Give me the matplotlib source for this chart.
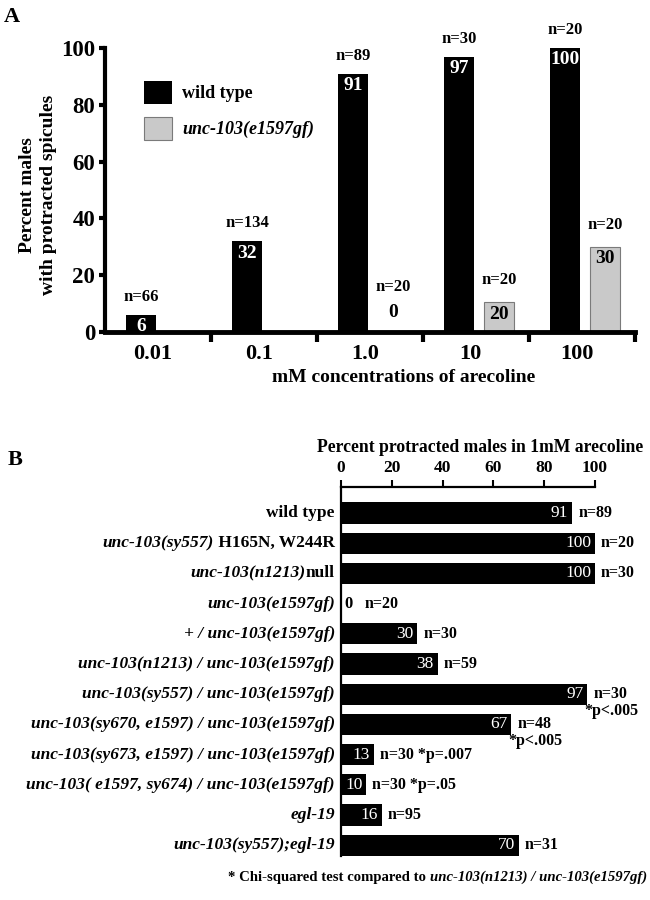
import matplotlib
matplotlib.use('Agg')
import matplotlib.pyplot as plt
from matplotlib.offsetbox import TextArea, HPacker, AnnotationBbox
import numpy as np

plt.rcParams['font.family'] = ['Liberation Serif', 'DejaVu Serif']
plt.rcParams['font.weight'] = 'bold'

# ---------------- Panel A data ----------------
concentrations = ['0.01', '0.1', '1.0', '10', '100']
wt_pct = [6, 32, 91, 97, 100]
wt_n = ['n=66', 'n=134', 'n=89', 'n=30', 'n=20']
gf_pct = [np.nan, np.nan, 0, 10.5, 30]          # bar heights as drawn
gf_label = ['', '', '0', '20', '30']
gf_n = ['', '', 'n=20', 'n=20', 'n=20']
series_names = ['wild type', 'unc-103(e1597gf)']

# ---------------- Panel B data ----------------
genotypes = [
    [('wild type', False)],
    [('unc-103(sy557)', True), (' H165N, W244R', False)],
    [('unc-103(n1213)', True), ('null', False)],
    [('unc-103(e1597gf)', True)],
    [('+ / unc-103(e1597gf)', True)],
    [('unc-103(n1213) / unc-103(e1597gf)', True)],
    [('unc-103(sy557) / unc-103(e1597gf)', True)],
    [('unc-103(sy670, e1597) / unc-103(e1597gf)', True)],
    [('unc-103(sy673, e1597) / unc-103(e1597gf)', True)],
    [('unc-103( e1597, sy674) / unc-103(e1597gf)', True)],
    [('egl-19', True)],
    [('unc-103(sy557);egl-19', True)],
]
pct_1mM = [91, 100, 100, 0, 30, 38, 97, 67, 13, 10, 16, 70]
n_1mM = ['n=89', 'n=20', 'n=30', 'n=20', 'n=30', 'n=59', 'n=30', 'n=48',
         'n=30', 'n=30', 'n=95', 'n=31']
pvals = ['', '', '', '', '', '', '*p<.005', '*p<.005', '*p=.007', '*p=.05', '', '']
titleB = 'Percent protracted males in 1mM arecoline'
footnote = [('* Chi-squared test compared to ', False),
            ('unc-103(n1213) / unc-103(e1597gf)', True)]

W, H = 650, 900
fig = plt.figure(figsize=(6.5, 9), dpi=100)

# ================= Panel A =================
axA = fig.add_axes([105 / W, 1 - 332 / H, (635 - 105) / W, (332 - 48) / H])
idx = np.arange(len(concentrations))
bw = 0.28
wt_x = idx + 0.34
gf_x = idx + 0.72
axA.bar(wt_x, wt_pct, width=bw, color='black', label=series_names[0], zorder=2)
axA.bar(gf_x, gf_pct, width=bw, color='#c9c9c9', edgecolor='#7a7a7a',
        linewidth=0.8, label=series_names[1], zorder=2)
axA.set_xlim(0, len(concentrations))
axA.set_ylim(0, 100)
axA.set_xticks(idx + 0.45)
axA.set_xticklabels(concentrations, fontsize=16, fontweight='bold')
axA.set_xticks(idx + 1, minor=True)
axA.tick_params(axis='x', which='major', length=0, pad=9)
axA.tick_params(axis='x', which='minor', length=7, width=3, direction='out')
axA.set_yticks(np.arange(0, 101, 20))
axA.tick_params(axis='y', labelsize=16.5, length=4, width=3, pad=3)
for lab in axA.get_yticklabels():
    lab.set_fontweight('bold')
for s in ['top', 'right']:
    axA.spines[s].set_visible(False)
axA.spines['left'].set_linewidth(3)
axA.spines['bottom'].set_linewidth(3.5)

for x, v, n in zip(wt_x, wt_pct, wt_n):
    axA.annotate(str(v), (x, v), xytext=(0, -12), textcoords='offset pixels',
                 ha='center', va='center', color='white', fontsize=14,
                 fontweight='bold', annotation_clip=False)
    axA.annotate(n, (x, v), xytext=(0, 18), textcoords='offset pixels',
                 ha='center', va='center', color='black', fontsize=12,
                 fontweight='bold', annotation_clip=False)
for x, v, lab, n in zip(gf_x, gf_pct, gf_label, gf_n):
    if np.isnan(v):
        continue
    if v > 0:
        axA.annotate(lab, (x, v), xytext=(0, -12), textcoords='offset pixels',
                     ha='center', va='center', color='black', fontsize=14,
                     fontweight='bold', annotation_clip=False)
        axA.annotate(n, (x, v), xytext=(0, 22), textcoords='offset pixels',
                     ha='center', va='center', fontsize=12, fontweight='bold',
                     annotation_clip=False)
    else:
        axA.annotate(lab, (x, v), xytext=(0, 19), textcoords='offset pixels',
                     ha='center', va='center', color='black', fontsize=14,
                     fontweight='bold', annotation_clip=False)
        axA.annotate(n, (x, v), xytext=(0, 45), textcoords='offset pixels',
                     ha='center', va='center', fontsize=12, fontweight='bold',
                     annotation_clip=False)

leg = axA.legend(loc='upper left', bbox_to_anchor=((144 - 105) / 530, (332 - 81) / 284),
                 frameon=False, borderpad=0, borderaxespad=0, handlelength=1.55,
                 handleheight=1.55, labelspacing=0.75, handletextpad=0.55,
                 prop={'size': 13, 'weight': 'bold'})
leg.get_texts()[1].set_fontstyle('italic')

fig.text(404 / W, 1 - 377 / H, 'mM concentrations of arecoline', ha='center',
         va='center', fontsize=14, fontweight='bold')
fig.text(38 / W, 1 - 195 / H, 'Percent males\nwith protracted spicules',
         ha='center', va='center', rotation=90, fontsize=14, fontweight='bold',
         linespacing=1.3, multialignment='center')
fig.text(4 / W, 1 - 17 / H, 'A', ha='left', va='center', fontsize=16,
         fontweight='bold')

# ================= Panel B =================
axB = fig.add_axes([341 / W, 1 - 856 / H, (595 - 341) / W, (856 - 487) / H])
rows = np.arange(len(pct_1mM))
axB.barh(rows, pct_1mM, height=0.7, color='black', zorder=2)
axB.set_xlim(0, 100)
axB.set_ylim(len(rows) - 0.64, -0.86)
axB.xaxis.tick_top()
axB.set_xticks(np.arange(0, 101, 20))
axB.tick_params(axis='x', labelsize=12.5, length=5, width=1.5, pad=3)
for lab in axB.get_xticklabels():
    lab.set_fontweight('bold')
axB.set_yticks([])
for s in ['bottom', 'right']:
    axB.spines[s].set_visible(False)
axB.spines['top'].set_linewidth(1.6)
axB.spines['left'].set_linewidth(1.6)

ytrans = axB.get_yaxis_transform()
for i, parts in enumerate(genotypes):
    kids = [TextArea(t, textprops=dict(fontsize=12.5, fontweight='bold',
                                        fontstyle='italic' if it else 'normal'))
            for t, it in parts]
    box = HPacker(children=kids, align='baseline', pad=0, sep=0)
    ab = AnnotationBbox(box, (0, i), xycoords=ytrans, xybox=(-4.5, 0),
                        boxcoords='offset points', box_alignment=(1, 0.5),
                        frameon=False, pad=0, annotation_clip=False)
    axB.add_artist(ab)

for i, (v, n, p) in enumerate(zip(pct_1mM, n_1mM, pvals)):
    if v > 0:
        axB.annotate(str(v), (v, i), xytext=(-4, 0), textcoords='offset pixels',
                     ha='right', va='center', color='white', fontsize=12.5,
                     fontweight='normal', annotation_clip=False)
        off = 6
    else:
        axB.annotate(str(v), (v, i), xytext=(3, 0), textcoords='offset pixels',
                     ha='left', va='center', color='black', fontsize=12,
                     fontweight='bold', annotation_clip=False)
        off = 24
    label = n
    if p and v <= 50:
        label = n + ' ' + p
    axB.annotate(label, (v, i), xytext=(off, 0), textcoords='offset pixels',
                 ha='left', va='center', fontsize=11.5, fontweight='bold',
                 annotation_clip=False)
    if p and v > 50:
        axB.annotate(p, (v, i), xytext=(-3, -17), textcoords='offset pixels',
                     ha='left', va='center', fontsize=11.5, fontweight='bold',
                     annotation_clip=False)

fig.text(480 / W, 1 - 448 / H, titleB, ha='center', va='center', fontsize=12.7,
         fontweight='bold')
fig.text(8 / W, 1 - 460 / H, 'B', ha='left', va='center', fontsize=16,
         fontweight='bold')

fkids = [TextArea(t, textprops=dict(fontsize=10.6, fontweight='bold',
                                     fontstyle='italic' if it else 'normal'))
         for t, it in footnote]
fbox = HPacker(children=fkids, align='baseline', pad=0, sep=0)
fab = AnnotationBbox(fbox, (647 / W, 1 - 877 / H), xycoords='figure fraction',
                     box_alignment=(1, 0.5), frameon=False, pad=0,
                     annotation_clip=False)
axB.add_artist(fab)

fig.savefig('out.png', dpi=100)
